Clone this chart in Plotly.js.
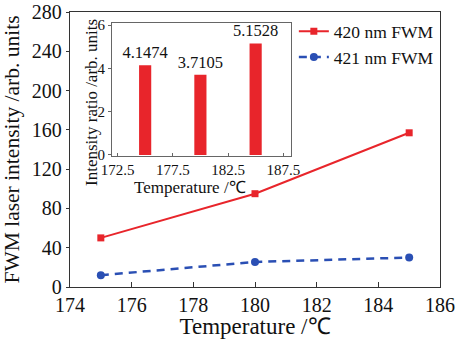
<!DOCTYPE html>
<html><head><meta charset="utf-8">
<script src="https://cdn.plot.ly/plotly-3.0.1.min.js"></script>
<style>body{margin:0;padding:0;background:#fff}#chart{width:456px;height:339px}</style>
</head><body><div id="chart"></div>
<script>
const temps = [175, 180, 185];
const fwm420 = [50, 95, 157];
const fwm421 = [12, 25.5, 30];
const ratio = [4.1474, 3.7105, 5.1528];
const ratioLabels = ['4.1474', '3.7105', '5.1528'];
const mainXTicks = [174, 176, 178, 180, 182, 184, 186];
const mainYTicks = [0, 40, 80, 120, 160, 200, 240, 280];
const insetXTicks = [172.5, 177.5, 182.5, 187.5];
const insetYTicks = [0, 2, 4, 6];

const F = 'Liberation Serif, Times New Roman, serif';
const red = '#e8252b', blue = '#2a4fb4';

const traces = [
  {x: temps, y: fwm420, name: '420 nm FWM', type: 'scatter', mode: 'lines+markers',
   line: {color: red, width: 2}, marker: {symbol: 'square', size: 7, color: red}, xaxis: 'x', yaxis: 'y'},
  {x: temps, y: fwm421, name: '421 nm FWM', type: 'scatter', mode: 'lines+markers',
   line: {color: blue, width: 2.5, dash: '8px,6px'}, marker: {symbol: 'circle', size: 8, color: blue}, xaxis: 'x', yaxis: 'y'},
  {x: temps, y: ratio, type: 'bar', width: 1.1, marker: {color: red, line: {width: 0}},
   text: ratioLabels, textposition: 'outside', cliponaxis: false, constraintext: 'none',
   textfont: {family: F, size: 16.5, color: '#111'}, showlegend: false, xaxis: 'x2', yaxis: 'y2'}
];

const x0 = 70, x1 = 440, y0 = 12, y1 = 287;
const W = x1 - x0, H = y1 - y0;
const ix0 = 112, ix1 = 291, iy0 = 23, iy1 = 156;

const layout = {
  width: 456, height: 339,
  margin: {l: x0, r: 456 - x1, t: y0, b: 339 - y1},
  paper_bgcolor: '#fff', plot_bgcolor: '#fff',
  font: {family: F, color: '#111'},
  showlegend: true,
  legend: {x: 0.605, y: 0.995, xanchor: 'left', yanchor: 'top', bgcolor: 'rgba(0,0,0,0)',
           font: {family: F, size: 17.5, color: '#111'}, tracegroupgap: 0, itemwidth: 30},
  xaxis: {range: [174, 186], tickvals: mainXTicks, ticks: 'inside', ticklen: 5, tickcolor: '#333',
          showline: true, linecolor: '#333', linewidth: 1.2, mirror: true, showgrid: false, zeroline: false,
          tickfont: {family: F, size: 20, color: '#111'},
          title: {text: 'Temperature /℃', font: {family: F, size: 23, color: '#111'}, standoff: 4}},
  yaxis: {range: [0, 280], tickvals: mainYTicks, ticks: 'outside', ticklen: 3, tickcolor: '#333',
          showline: true, linecolor: '#333', linewidth: 1.2, mirror: true, showgrid: false, zeroline: false,
          tickfont: {family: F, size: 20, color: '#111'},
          title: {text: 'FWM laser intensity /arb. units', font: {family: F, size: 21.5, color: '#111'}, standoff: 7}},
  xaxis2: {domain: [(ix0 - x0) / W, (ix1 - x0) / W], anchor: 'y2', range: [172, 188.2], tickvals: insetXTicks,
           ticks: 'inside', ticklen: 3, tickcolor: '#666', showline: true, linecolor: '#666', linewidth: 1, mirror: true,
           showgrid: false, zeroline: false, tickfont: {family: F, size: 15, color: '#111'}},
  yaxis2: {domain: [(y1 - iy1) / H, (y1 - iy0) / H], anchor: 'x2', range: [-0.05, 6.1], tickvals: insetYTicks,
           ticks: 'outside', ticklen: 3, tickcolor: '#666', showline: true, linecolor: '#666', linewidth: 1, mirror: true,
           showgrid: false, zeroline: false, tickfont: {family: F, size: 15, color: '#111'}},
  annotations: [
    {text: 'Temperature /℃', xref: 'paper', yref: 'paper', x: (190 - x0) / W, y: (y1 - 187) / H,
     xanchor: 'center', yanchor: 'middle', showarrow: false, font: {family: F, size: 17, color: '#111'}},
    {text: 'Intensity ratio /arb. units', xref: 'paper', yref: 'paper', x: (91 - x0) / W, y: (y1 - 103) / H,
     xanchor: 'center', yanchor: 'middle', textangle: -90, showarrow: false, font: {family: F, size: 17, color: '#111'}}
  ]
};

Plotly.newPlot('chart', traces, layout, {displayModeBar: false, staticPlot: true});
</script></body></html>
